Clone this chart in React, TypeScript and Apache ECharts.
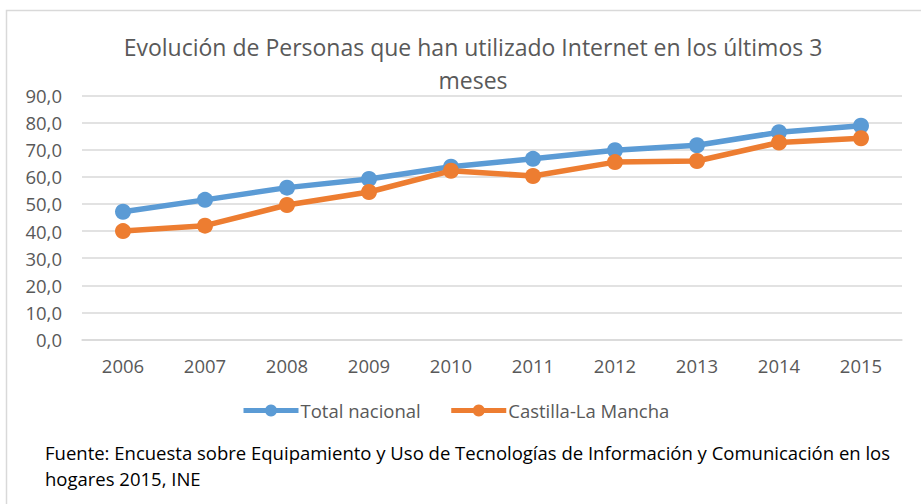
import React, { useEffect, useRef } from "react";
import * as echarts from "echarts";

const years = ["2006", "2007", "2008", "2009", "2010", "2011", "2012", "2013", "2014", "2015"];
const totalNacional = [47.1, 51.5, 56.0, 59.2, 63.7, 66.6, 69.8, 71.6, 76.4, 78.8];
const castillaLaMancha = [40.0, 42.0, 49.6, 54.4, 62.2, 60.3, 65.4, 65.8, 72.6, 74.2];
const titleText = "Evolución de Personas que han utilizado Internet en los últimos 3\nmeses";
const sourceLines = [
  "Fuente: Encuesta sobre Equipamiento y Uso de Tecnologías de Información y Comunicación en los",
  "hogares 2015, INE",
];

const FONT = "'Open Sans', sans-serif";

export default function App() {
  const ref = useRef<HTMLDivElement>(null);
  useEffect(() => {
    if (!ref.current) return;
    const chart = echarts.init(ref.current, undefined, { renderer: "svg" });
    chart.setOption({
      animation: false,
      backgroundColor: "#ffffff",
      title: {
        text: titleText,
        left: 468,
        textAlign: "center",
        top: 25,
        textStyle: {
          fontFamily: FONT,
          fontSize: 23,
          fontWeight: "normal",
          color: "#595959",
          lineHeight: 33,
        },
      },
      legend: {
        top: 396,
        left: 236,
        itemWidth: 55,
        itemHeight: 15,
        itemGap: 28,
        lineStyle: { width: 5 },
        textStyle: { fontFamily: FONT, fontSize: 18.5, color: "#595959", padding: [0, 0, 0, -3] },
        data: ["Total nacional", "Castilla-La Mancha"],
      },
      grid: { left: 82, right: 19, top: 95.3, bottom: 164.3, containLabel: false },
      xAxis: {
        type: "category",
        data: years,
        boundaryGap: true,
        axisLine: { show: true, lineStyle: { color: "#d9d9d9", width: 1.5 } },
        axisTick: { show: false },
        axisLabel: { fontFamily: FONT, fontSize: 18.5, color: "#595959", margin: 16 },
      },
      yAxis: {
        type: "value",
        min: 0,
        max: 90,
        interval: 10,
        axisLine: { show: false },
        axisTick: { show: false },
        splitLine: { lineStyle: { color: "#d9d9d9", width: 1.5 } },
        axisLabel: {
          fontFamily: FONT,
          fontSize: 18.5,
          color: "#595959",
          margin: 20,
          formatter: (v: number) => v.toFixed(1).replace(".", ","),
        },
      },
      series: [
        {
          name: "Total nacional",
          type: "line",
          data: totalNacional,
          symbol: "circle",
          symbolSize: 16,
          color: "#5B9BD5",
          lineStyle: { width: 5.5, color: "#5B9BD5" },
          itemStyle: { color: "#5B9BD5" },
        },
        {
          name: "Castilla-La Mancha",
          type: "line",
          data: castillaLaMancha,
          symbol: "circle",
          symbolSize: 16,
          color: "#ED7D31",
          lineStyle: { width: 5.5, color: "#ED7D31" },
          itemStyle: { color: "#ED7D31" },
        },
      ],
      graphic: [
        {
          type: "rect",
          shape: { x: 6.5, y: 10.5, width: 940, height: 520 },
          style: { fill: "none", stroke: "#d9d9d9", lineWidth: 1.5 },
          silent: true,
        },
        ...sourceLines.map((t, i) => ({
          type: "text",
          x: 45,
          y: 452 + i * 26,
          style: {
            text: t,
            fontFamily: FONT,
            fontSize: 18.5,
            fill: "#000000",
            textVerticalAlign: "middle",
            textAlign: "left",
          },
        })),
      ],
    });
    return () => chart.dispose();
  }, []);
  return (
    <div
      ref={ref}
      style={{ position: "absolute", left: 0, top: 0, width: 921, height: 504 }}
    />
  );
}
